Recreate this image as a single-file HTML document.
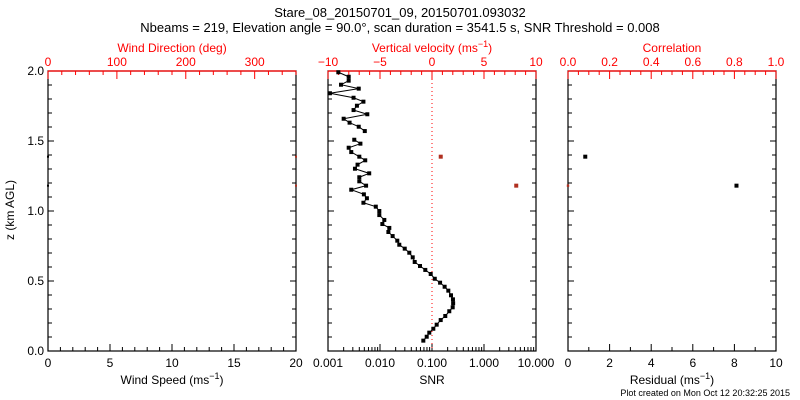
<!DOCTYPE html>
<html><head><meta charset="utf-8"><style>
html,body{margin:0;padding:0;background:#fff;}
svg{display:block;font-family:"Liberation Sans",sans-serif;}
</style></head><body>
<svg id="chart" width="800" height="400" viewBox="0 0 800 400" xmlns="http://www.w3.org/2000/svg">
<text x="400" y="17" text-anchor="middle" font-size="13">Stare_08_20150701_09, 20150701.093032</text>
<text x="400" y="32" text-anchor="middle" font-size="13">Nbeams = 219, Elevation angle = 90.0°, scan duration = 3541.5 s, SNR Threshold = 0.008</text>
<text x="0" y="0" transform="translate(14,210) rotate(-90)" text-anchor="middle" font-size="12">z (km AGL)</text>
<text x="790" y="396" text-anchor="end" font-size="9">Plot created on Mon Oct 12 20:32:25 2015</text>
<g id="g"></g>
</svg>
<script>
// SNR profile data
const zSnr = [1.991,1.959,1.931,1.902,1.874,1.841,1.809,1.781,1.752,1.721,1.691,1.659,1.631,1.602,1.571,null,1.509,1.481,1.452,1.421,1.388,1.362,1.331,1.302,1.269,1.241,1.212,1.181,1.152,1.119,1.091,1.059,1.031,1.0,0.971,0.936,0.907,0.879,0.85,0.821,0.788,0.759,0.731,0.702,0.669,0.636,0.607,0.579,0.55,0.516,0.488,0.459,0.431,0.398,0.369,0.341,0.312,0.284,0.25,0.221,0.188,0.159,0.131,0.102,0.074];
const snrVals = [0.00158,0.0025,0.0025,0.00178,0.0039,0.00109,0.0031,0.0048,0.0036,0.0031,0.0057,0.0020,0.0026,0.0039,0.0051,null,0.0032,0.0042,0.0025,0.0028,0.0040,0.0052,0.0037,0.0033,0.0062,0.0040,0.0040,0.0054,0.0028,0.0049,0.0056,0.0048,0.0083,0.0097,0.0097,0.0121,0.0111,0.0151,0.0145,0.0175,0.0215,0.0235,0.0299,0.0366,0.0426,0.0465,0.0588,0.0743,0.0944,0.113,0.143,0.175,0.206,0.232,0.253,0.255,0.250,0.215,0.180,0.147,0.123,0.106,0.0887,0.0791,0.0681];
const zVel = [1.388,1.181];
const velVals = [0.84,8.1];
const zWind = [1.388,1.181];
const windSpeed = [0,0];
const windDir = [360,360];
const zCorr = [1.388,1.181];
const corrVals = [0.083,0.0];
const zResid = [1.181];
const residVals = [8.1];
const zTicks = ["0.0","0.5","1.0","1.5","2.0"];
const snrTickLabels = ["0.001","0.010","0.100","1.000","10.000"];

const NS="http://www.w3.org/2000/svg";
const g=document.getElementById('g');
const RED='#ff0000';
function el(tag,attrs,parent){const e=document.createElementNS(NS,tag);for(const k in attrs)e.setAttribute(k,attrs[k]);(parent||g).appendChild(e);return e;}
const Y0=351,Y1=71;
const yS=z=>Y0+(Y1-Y0)*z/2;
function lin(a,b,x0,x1){return v=>x0+(v-a)/(b-a)*(x1-x0);}
function txt(s,x,y,opt,name){const t=el('text',Object.assign({x:x,y:y,'font-size':12,'text-anchor':'middle'},opt||{}));


t.textContent=s;return t;}

function panel(name,x0,x1){
  const r=el('rect',{x:x0,y:Y1,width:x1-x0,height:Y0-Y1,fill:'none',stroke:'#000','stroke-width':1.2});
  
  
  for(let i=0;i<=20;i++){const y=yS(i/10);const L=i%5==0?6:4;
    el('line',{x1:x0,x2:x0+L,y1:y,y2:y,stroke:'#000'});el('line',{x1:x1,x2:x1-L,y1:y,y2:y,stroke:'#000'});}
}
function bottomLin(name,x0,x1,a,b,maj,min,labs,title){
  const s=lin(a,b,x0,x1);
  for(let v=a;v<=b+1e-9;v+=min){const x=s(v);const isM=Math.abs(v/maj-Math.round(v/maj))<1e-6;
    el('line',{x1:x,x2:x,y1:Y0,y2:Y0-(isM?7:4),stroke:'#000'});}
  labs.forEach((l,i)=>txt(l,s(a+i*maj),367,{},name+'-tick-label'));
  const t=txt('',(x0+x1)/2,384,{},name+'-title');t.innerHTML=title;
}
function topLin(name,x0,x1,a,b,maj,min,labs,title){
  const s=lin(a,b,x0,x1);
  for(let v=a;v<=b+1e-9;v+=min){const x=s(v);const isM=Math.abs(v/maj-Math.round(v/maj))<1e-6;
    el('line',{x1:x,x2:x,y1:Y1,y2:Y1+(isM?8:4),stroke:RED});}
  el('line',{x1:x0,x2:x1,y1:Y1,y2:Y1,stroke:RED,'stroke-width':1.2});
  labs.forEach((l,i)=>txt(l,s(a+i*maj),66,{fill:RED},name+'-tick-label'));
  const t=txt('',(x0+x1)/2,52,{fill:RED},name+'-title');t.innerHTML=title;
  return s;
}
function dot(x,y,c,name,sz){const r=el('rect',{x:x-(sz||2),y:y-(sz||2),width:2*(sz||2),height:2*(sz||2),fill:c});
  
  }

// Left panel
panel('wind-panel',48,296);
zTicks.forEach((l,i)=>txt(l,44,yS(i*0.5)+4,{'text-anchor':'end'},'z-tick-label'));
bottomLin('wind-speed-axis',48,296,0,20,5,1,["0","5","10","15","20"],'Wind Speed (ms<tspan dy="-5" font-size="9">−1</tspan><tspan dy="5">)</tspan>');
const sDir=topLin('wind-direction-axis',48,296,0,360,100,20,["0","100","200","300"],'Wind Direction (deg)');
const sSpd=lin(0,20,48,296);
zWind.forEach((z,i)=>{dot(sSpd(windSpeed[i]),yS(z),'#000','wind-speed-point',1);dot(sDir(windDir[i]),yS(z),'#b03020','wind-direction-point',1);});

// Middle panel
panel('snr-panel',328,536);
const sLog=v=>328+(Math.log10(v)+3)/4*208;
for(let d=-3;d<=1;d++){for(let m=1;m<=9;m++){const v=m*Math.pow(10,d);if(v>10.0001)break;const x=sLog(v);
  el('line',{x1:x,x2:x,y1:Y0,y2:Y0-(m==1?7:4),stroke:'#000'});}}
snrTickLabels.forEach((l,i)=>txt(l,328+i*52,367,{},'snr-tick-label'));
txt('SNR',432,384,{},'snr-axis-title');
const sVel=topLin('vertical-velocity-axis',328,536,-10,10,5,1,["−10","−5","0","5","10"],'Vertical velocity (ms<tspan dy="-5" font-size="9">−1</tspan><tspan dy="5">)</tspan>');
const zl=el('line',{x1:sVel(0),x2:sVel(0),y1:Y1,y2:Y0,stroke:RED,'stroke-dasharray':'1,3'});


let seg=[];const segs=[];
zSnr.forEach((z,i)=>{if(z===null){segs.push(seg);seg=[];}else seg.push([sLog(snrVals[i]),yS(z)]);});segs.push(seg);
segs.forEach(s=>{const p=el('polyline',{points:s.map(q=>q.join(',')).join(' '),fill:'none',stroke:'#000','stroke-width':1});
  
  
  s.forEach(q=>dot(q[0],q[1],'#000','snr-point',2));});
zVel.forEach((z,i)=>dot(sVel(velVals[i]),yS(z),'#b03020','velocity-point',2));

// Right panel
panel('correlation-panel',568,776);
bottomLin('residual-axis',568,776,0,10,2,1,["0","2","4","6","8","10"],'Residual (ms<tspan dy="-5" font-size="9">−1</tspan><tspan dy="5">)</tspan>');
const sCor=topLin('correlation-axis',568,776,0,1,0.2,0.05,["0.0","0.2","0.4","0.6","0.8","1.0"],'Correlation');
const sRes=lin(0,10,568,776);
zCorr.forEach((z,i)=>dot(sCor(corrVals[i]),yS(z),i==0?'#000':'#b03020','correlation-point',i==0?2:1.2));
zResid.forEach((z,i)=>dot(sRes(residVals[i]),yS(z),'#000','residual-point',2));
</script>
</body></html>
